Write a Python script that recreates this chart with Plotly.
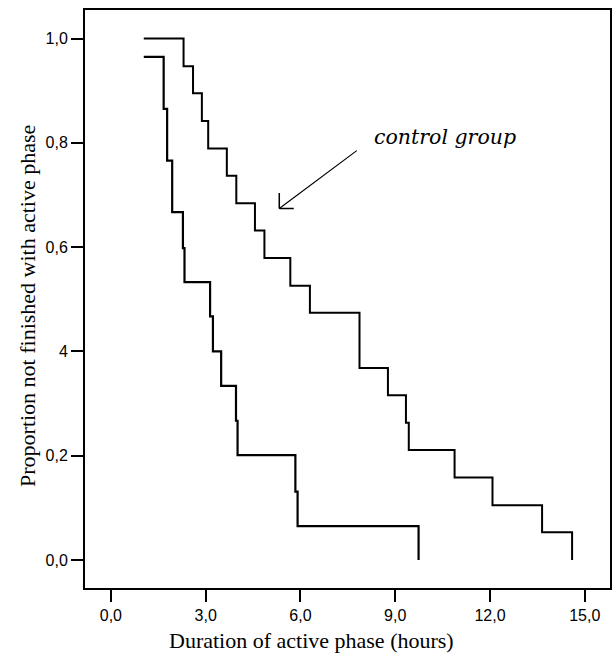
import plotly.graph_objects as go

# Control group (Kaplan-Meier step data)
control_time = [1.04, 2.30, 2.60, 2.88, 3.08, 3.67, 3.97, 4.56, 4.86, 5.68, 6.30, 7.87, 8.77, 9.34, 9.43, 10.88, 12.08, 13.65, 14.60]
control_surv = [1.0, 0.947, 0.895, 0.842, 0.789, 0.737, 0.684, 0.632, 0.579, 0.526, 0.474, 0.368, 0.316, 0.263, 0.211, 0.158, 0.105, 0.053, 0.0]

# Treatment group
treat_time = [1.04, 1.67, 1.78, 1.94, 2.28, 2.33, 3.14, 3.23, 3.49, 3.96, 4.01, 5.84, 5.91, 9.74]
treat_surv = [0.965, 0.865, 0.766, 0.667, 0.598, 0.533, 0.467, 0.400, 0.334, 0.267, 0.201, 0.131, 0.065, 0.0]

x_tick_vals = [0, 3, 6, 9, 12, 15]
x_tick_text = ["0,0", "3,0", "6,0", "9,0", "12,0", "15,0"]
y_tick_vals = [0.0, 0.2, 0.4, 0.6, 0.8, 1.0]
y_tick_text = ["0,0", "0,2", "4", "0,6", "0,8", "1,0"]

x_title = "Duration of active phase (hours)"
y_title = "Proportion not finished with active phase"
note_text = "control group"
arrow_tip = (5.33, 0.674)

fig = go.Figure()
fig.add_trace(go.Scatter(x=control_time, y=control_surv, mode="lines",
                         line=dict(color="black", width=2, shape="hv"), showlegend=False))
fig.add_trace(go.Scatter(x=treat_time, y=treat_surv, mode="lines",
                         line=dict(color="black", width=2.2, shape="hv"), showlegend=False))

serif = "'Liberation Serif', 'Times New Roman', Times, serif"
sans = "'Liberation Sans', Arial, sans-serif"

fig.update_layout(
    width=613, height=654,
    margin=dict(l=85, r=1, t=10, b=66),
    plot_bgcolor="white", paper_bgcolor="white",
    showlegend=False,
)
fig.update_xaxes(range=[-0.82, 15.80], tickvals=x_tick_vals, ticktext=x_tick_text,
                 showgrid=False, zeroline=False, showline=True, mirror=True,
                 linecolor="black", linewidth=2, ticks="outside", ticklen=12,
                 tickwidth=2, tickcolor="black",
                 tickfont=dict(family=sans, size=16, color="black"))
fig.update_yaxes(range=[-0.0537, 1.0547], tickvals=y_tick_vals, ticktext=y_tick_text,
                 showgrid=False, zeroline=False, showline=True, mirror=True,
                 linecolor="black", linewidth=2, ticks="outside", ticklen=12,
                 tickwidth=2, tickcolor="black",
                 tickfont=dict(family=sans, size=16, color="black"))

annotations = [
    dict(text=x_title, xref="paper", yref="paper", x=0, y=0, xshift=226, yshift=-52,
         xanchor="center", yanchor="middle", showarrow=False,
         font=dict(family=serif, size=22, color="black")),
    dict(text=y_title, xref="paper", yref="paper", x=0, y=0, xshift=-58, yshift=282,
         xanchor="center", yanchor="middle", textangle=-90, showarrow=False,
         font=dict(family=serif, size=22, color="black")),
    dict(text="<i>" + note_text + "</i>", x=10.58, y=0.811, xref="x", yref="y",
         xanchor="center", yanchor="middle", showarrow=False,
         font=dict(family="'DejaVu Serif', serif", size=20.5, color="black")),
    # arrow shaft
    dict(text="", x=arrow_tip[0], y=arrow_tip[1], xref="x", yref="y",
         ax=79, ay=-59, showarrow=True, arrowhead=0, arrowwidth=1.2, arrowcolor="black"),
    # arrow barbs
    dict(text="", x=arrow_tip[0], y=arrow_tip[1], xref="x", yref="y",
         ax=0, ay=-17, showarrow=True, arrowhead=0, arrowwidth=1.5, arrowcolor="black"),
    dict(text="", x=arrow_tip[0], y=arrow_tip[1], xref="x", yref="y",
         ax=16, ay=0, showarrow=True, arrowhead=0, arrowwidth=1.5, arrowcolor="black"),
]
fig.update_layout(annotations=annotations)

fig.write_html("out.html", config={"displayModeBar": False},
               post_script="document.body.style.margin='0';document.body.style.padding='0';")
